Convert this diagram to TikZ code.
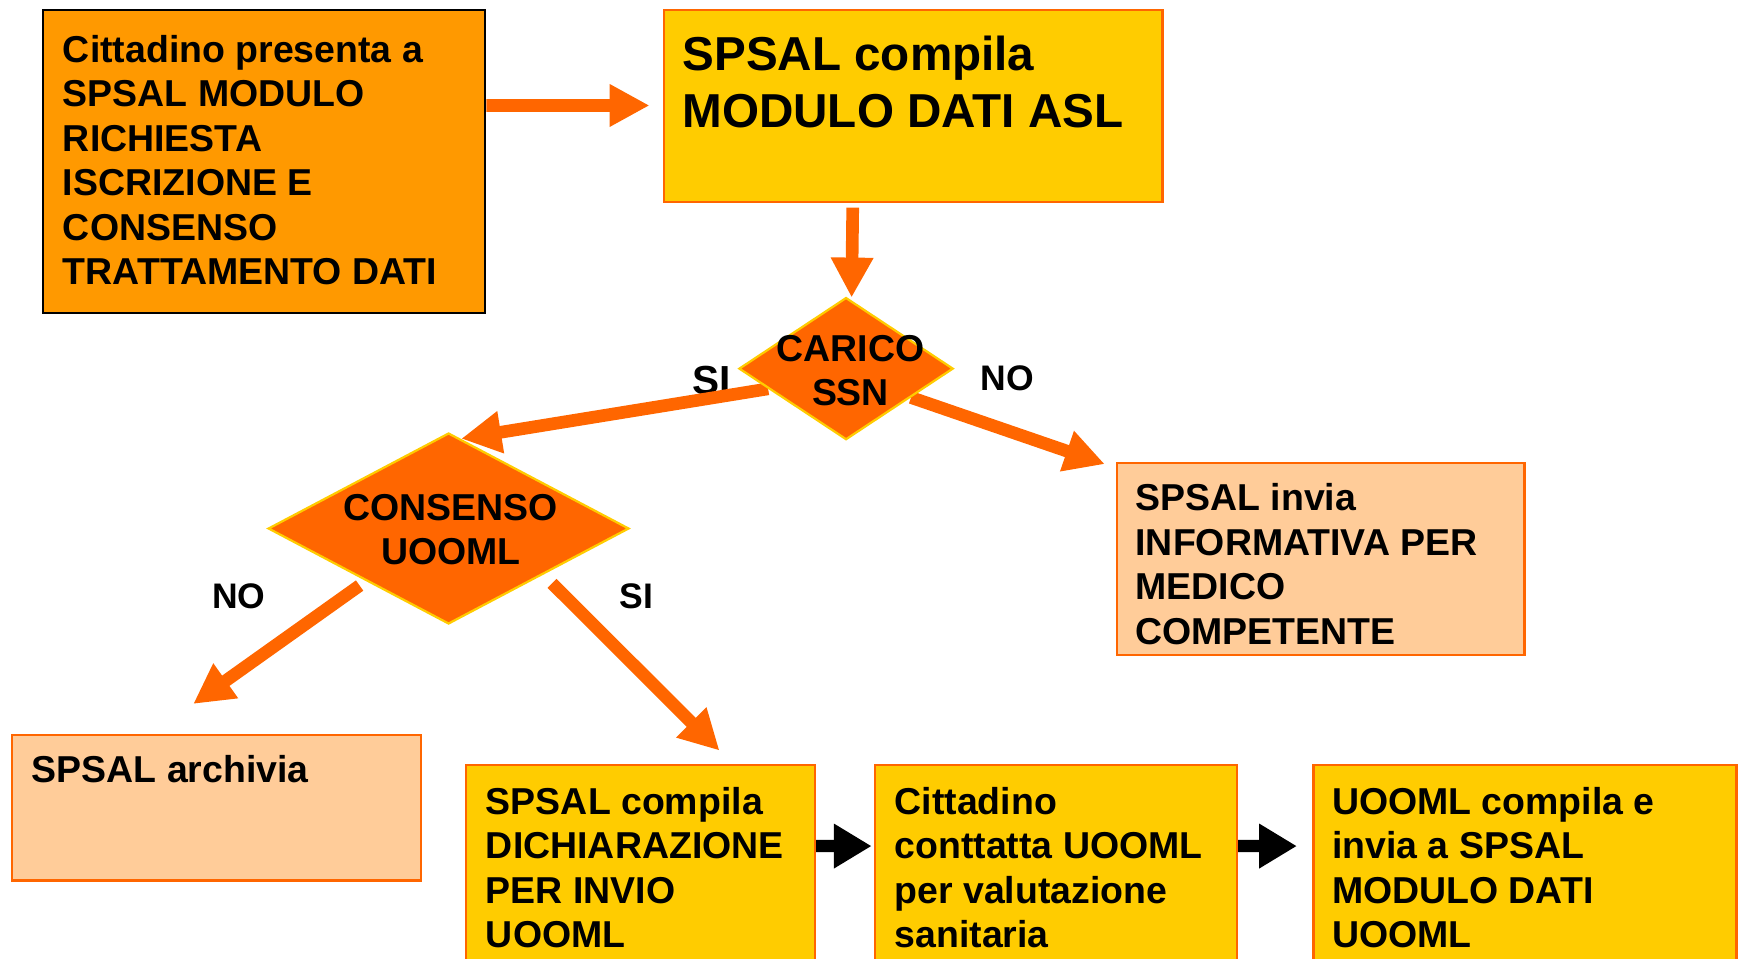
\documentclass[tikz,border=0pt]{standalone}
\usepackage{fontspec}
\setmainfont{Liberation Sans}
\usepackage{tikz}
\usetikzlibrary{shapes.geometric, arrows.meta, positioning, calc, backgrounds}
\definecolor{flowOrange}{HTML}{FF9900}
\definecolor{flowYellow}{HTML}{FFCC00}
\definecolor{flowPeach}{HTML}{FFCC99}
\definecolor{flowRed}{HTML}{FF6600}

\begin{document}
\begin{tikzpicture}[x=0.1mm, y=-0.1mm,
    box/.style={draw=flowRed, line width=0.2mm, anchor=north west, inner sep=0pt},
    txt/.style={anchor=north west, inner sep=0pt, align=left,
      font=\fontsize{9.6}{11.4}\selectfont\bfseries},
    dtxt/.style={inner sep=0pt, align=center,
      font=\fontsize{9.6}{11.4}\selectfont\bfseries},
    lab/.style={inner sep=0pt, font=\fontsize{9.1}{11.3}\selectfont\bfseries},
    choice/.style={diamond, fill=flowRed, draw=flowYellow, line width=0.2mm, inner sep=0pt},
    oarrow/.style={draw=flowRed, line width=1.14mm, -{Triangle[length=3.6mm, width=3.6mm]}},
    karrow/.style={draw=black, line width=1.1mm, -{Triangle[length=3.4mm, width=3.8mm]}}]
    \useasboundingbox (0,0) rectangle (1568,863);
    \clip (0,0) rectangle (1568,863);

    % caselle
    \node[box, draw=black, fill=flowOrange, minimum width=39.8mm, minimum height=27.3mm] (b1) at (38,8) {};
    \node[box, fill=flowYellow, minimum width=44.9mm, minimum height=17.3mm] (b2) at (597,8) {};
    \node[box, fill=flowPeach, minimum width=36.7mm, minimum height=17.3mm] (b3) at (1005,416) {};
    \node[box, fill=flowPeach, minimum width=36.8mm, minimum height=13.1mm] (b4) at (10,661) {};
    \node[box, fill=flowYellow, minimum width=31.4mm, minimum height=20mm] (b5) at (419,688) {};
    \node[box, fill=flowYellow, minimum width=32.6mm, minimum height=20mm] (b6) at (787,688) {};
    \node[box, fill=flowYellow, minimum width=38.1mm, minimum height=20mm] (b7) at (1182,688) {};

    % decisioni
    \node[choice, minimum width=19.3mm, minimum height=12.8mm] (d1) at (762,332) {};
    \node[choice, minimum width=32.5mm, minimum height=17.2mm] (d2) at (404,476) {};

    % testi
    \node[txt] (b1t) at ([shift={(18,23)}]b1.north west)
      {Cittadino presenta a\\SPSAL MODULO\\RICHIESTA\\ISCRIZIONE E\\CONSENSO\\TRATTAMENTO DATI};
    \node[txt, font=\fontsize{12.2}{14.5}\selectfont\bfseries] (b2t) at ([shift={(17,24)}]b2.north west)
      {SPSAL compila\\MODULO DATI ASL};
    \node[txt] (b3t) at ([shift={(17,19)}]b3.north west)
      {SPSAL invia\\INFORMATIVA PER\\MEDICO\\COMPETENTE};
    \node[txt] (b4t) at ([shift={(18,19)}]b4.north west) {SPSAL archivia};
    \node[txt] (b5t) at ([shift={(18,20)}]b5.north west)
      {SPSAL compila\\DICHIARAZIONE\\PER INVIO\\UOOML};
    \node[txt] (b6t) at ([shift={(18,20)}]b6.north west)
      {Cittadino\\conttatta UOOML\\per valutazione\\sanitaria};
    \node[txt] (b7t) at ([shift={(17,20)}]b7.north west)
      {UOOML compila e\\invia a SPSAL\\MODULO DATI\\UOOML};
    \node[dtxt] (d1t) at ([shift={(4,2)}]d1.center) {CARICO\\SSN};
    \node[dtxt] (d2t) at ([shift={(2,1)}]d2.center) {CONSENSO\\UOOML};

    \begin{pgfonlayer}{background}
      \node[lab, font=\fontsize{10.4}{12}\selectfont\bfseries] (si1) at (641,343) {SI};
      \node[lab] (no1) at (907,341) {NO};
      \node[lab] (no2) at (215,537) {NO};
      \node[lab] (si2) at (573,537) {SI};

      \draw[oarrow] ([yshift=-8.7mm]b1.north east) -- ([shift={(-12,87)}]b2.north west);
      \draw[oarrow] ([shift={(171,4)}]b2.south west) -- ([shift={(5,1)}]d1.north);
      \draw[oarrow] ($(d1.west)!0.28!(d1.south)$) -- ($(d2.north)!0.07!(d2.east)$);
      \draw[oarrow] ($(d1.south)!0.6!(d1.east)$) -- ([shift={(-10,2)}]b3.north west);
      \draw[oarrow] ($(d2.west)!0.51!(d2.south)+(0,7)$) -- ([shift={(-21,-27)}]b4.north);
      \draw[oarrow] ($(d2.south)!0.57!(d2.east)+(0,12)$) -- ([shift={(229,-12)}]b5.north west);
      \draw[karrow] ([yshift=-7.4mm]b5.north east) -- ([shift={(-2,74)}]b6.north west);
      \draw[karrow] ([yshift=-7.4mm]b6.north east) -- ([shift={(-14,74)}]b7.north west);
    \end{pgfonlayer}
\end{tikzpicture}
\end{document}
